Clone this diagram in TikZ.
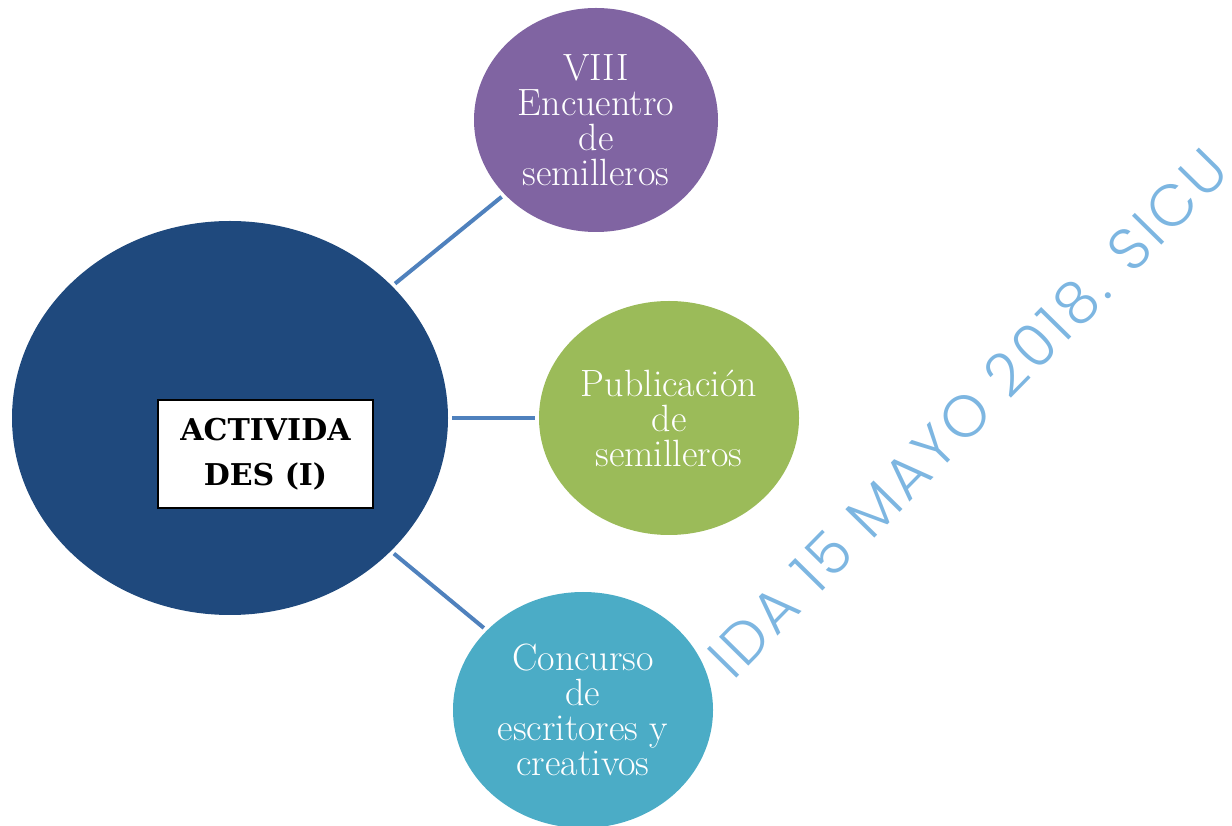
\documentclass[tikz,border=0pt]{standalone}
\usepackage{fontspec}
\usetikzlibrary{shapes.geometric}
\IfFontExistsTF{Poppins Light}
  {\newfontfamily\wmfont{Poppins Light}[LetterSpace=6]}
  {\newfontfamily\wmfont{Poppins}[LetterSpace=6]}
\newfontfamily\boxfont{DejaVu Serif}
\definecolor{bigblue}{RGB}{31,73,125}
\definecolor{purplec}{RGB}{128,100,162}
\definecolor{greenc}{RGB}{155,187,89}
\definecolor{tealc}{RGB}{75,172,198}
\definecolor{linec}{RGB}{79,129,189}
\definecolor{wmc}{RGB}{125,182,225}
\begin{document}
\begin{tikzpicture}[x=1pt,y=1pt,
  bubble/.style={ellipse, inner sep=0pt, outer sep=0pt, draw=none, text=white, align=center,
    font=\fontsize{38}{35}\selectfont},
  link/.style={draw=linec, line width=4pt, shorten <=4pt, shorten >=4pt},
  titlebox/.style={rectangle, fill=white, draw=black, line width=1.5pt, inner sep=0pt,
    minimum width=215pt, minimum height=108pt, align=center,
    font=\boxfont\bfseries\fontsize{30}{45}\selectfont}
]
\useasboundingbox (0,0) rectangle (1232,825);
% watermark (behind)
\node (wm) [anchor=base west, rotate=45.5, inner sep=0pt, text=wmc] at (733,143)
  {\resizebox{712pt}{!}{\wmfont IDA 15 MAYO 2018. SICU}};
% bubbles
\node (big) [bubble, fill=bigblue, minimum width=436pt, minimum height=394pt] at (230,407) {};
\node (box) [titlebox] at (265.5,371) {ACTIVIDA\\DES (I)};
\node (enc) [bubble, fill=purplec, minimum width=244pt, minimum height=224pt] at (596,705)
  {VIII\\Encuentro\\de\\semilleros};
\node (pub) [bubble, fill=greenc, minimum width=260pt, minimum height=234pt] at (669,407)
  {Publicación\\de\\semilleros};
\node (con) [bubble, fill=tealc, minimum width=260pt, minimum height=236pt] at (583,115)
  {Concurso\\de\\escritores y\\creativos};
% links
\draw[link] (big) -- (enc);
\draw[link] (big) -- (pub);
\draw[link] (big) -- (con);
\end{tikzpicture}
\end{document}
